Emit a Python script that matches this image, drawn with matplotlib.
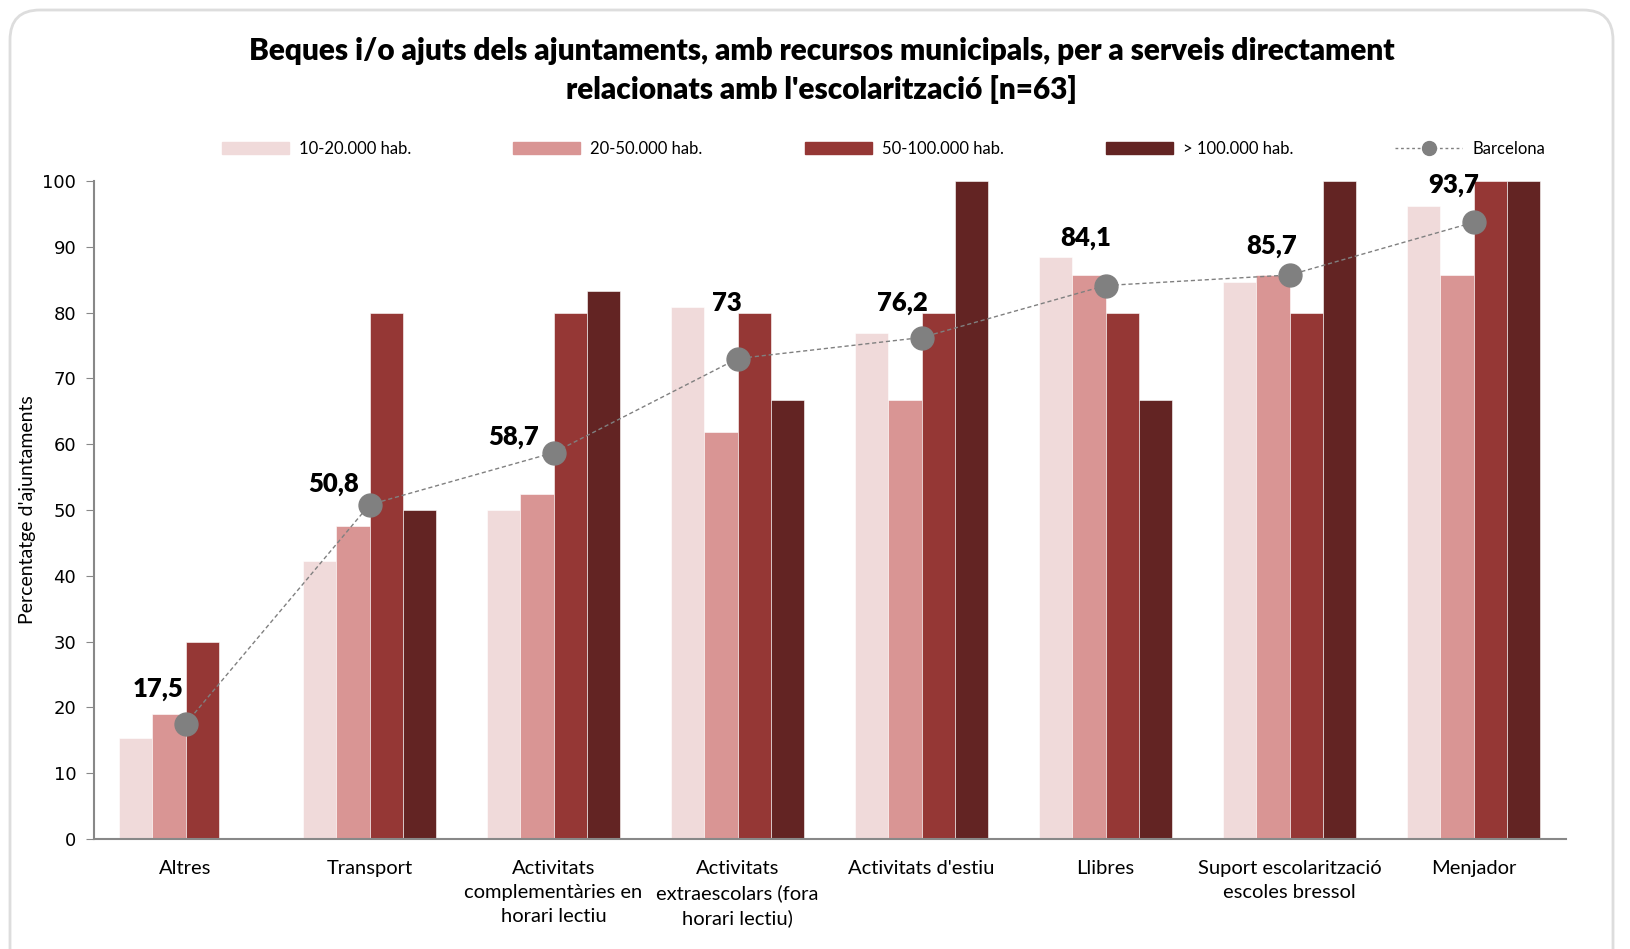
import matplotlib
matplotlib.use('Agg')
from matplotlib import pyplot as plt
from matplotlib.patches import FancyBboxPatch
from matplotlib.lines import Line2D
import numpy as np

categories = ['Altres', 'Transport', 'Activitats\ncomplementàries en\nhorari lectiu',
              'Activitats\nextraescolars (fora\nhorari lectiu)', "Activitats d'estiu",
              'Llibres', 'Suport escolarització\nescoles bressol', 'Menjador']
series_names = ['10-20.000 hab.', '20-50.000 hab.', '50-100.000 hab.', '> 100.000 hab.']
hab_10_20 = [15.4, 42.2, 50.0, 80.8, 76.9, 88.5, 84.6, 96.2]
hab_20_50 = [19.0, 47.6, 52.4, 61.9, 66.7, 85.7, 85.7, 85.7]
hab_50_100 = [30.0, 80.0, 80.0, 80.0, 80.0, 80.0, 80.0, 100.0]
hab_100 = [0.0, 50.0, 83.3, 66.7, 100.0, 66.7, 100.0, 100.0]
barcelona = [17.5, 50.8, 58.7, 73.0, 76.2, 84.1, 85.7, 93.7]
barcelona_labels = ['17,5', '50,8', '58,7', '73', '76,2', '84,1', '85,7', '93,7']

colors = ['#F0DADA', '#D99594', '#953735', '#632423']
# label offsets (points) from the Barcelona markers
label_off = [(-20, 25), (-26, 15), (-29, 11), (-8, 40), (-14, 25), (-14, 34), (-13, 21), (-14, 27)]

plt.rcParams['font.family'] = ['Lato', 'DejaVu Sans']

fig = plt.figure(figsize=(16.3, 9.49), dpi=100)
ax = fig.add_axes([0.0574, 0.1159, 0.9031, 0.6935])

x = np.arange(len(categories))
w = 0.18
all_series = [hab_10_20, hab_20_50, hab_50_100, hab_100]
for i, vals in enumerate(all_series):
    ax.bar(x + (i - 1.5) * w, vals, w, color=colors[i], edgecolor='white',
           linewidth=0.4, label=series_names[i], zorder=2)

ax.plot(x, barcelona, linestyle=(0, (3, 2)), color='#808080', linewidth=1,
        marker='o', markersize=16.5, markerfacecolor='#808080',
        markeredgecolor='#808080', zorder=3)
for i, v in enumerate(barcelona):
    ax.annotate(barcelona_labels[i], (x[i], v), xytext=label_off[i],
                textcoords='offset points', ha='center', va='center',
                fontsize=18.5, fontweight='heavy', zorder=4)

ax.set_xlim(-0.5, 7.5)
ax.set_ylim(0, 100)
ax.set_yticks(range(0, 101, 10))
ax.set_yticklabels([str(v) for v in range(0, 101, 10)], family='DejaVu Sans', fontsize=13)
ax.set_xticks(x)
ax.set_xticklabels(categories, fontsize=14.5, linespacing=1.5)
ax.tick_params(axis='x', length=0, pad=15)
ax.tick_params(axis='y', length=6, color='#888888', pad=6.5)
for s in ['top', 'right']:
    ax.spines[s].set_visible(False)
for s in ['left', 'bottom']:
    ax.spines[s].set_color('#888888')
    ax.spines[s].set_linewidth(1.5)
ax.set_ylabel("Percentatge d'ajuntaments", fontsize=14)
ax.yaxis.set_label_coords(-0.0446, 0.5)
ax.yaxis.label.set_va('center')

fig.text(0.504, 0.926, "Beques i/o ajuts dels ajuntaments, amb recursos municipals, per a serveis directament\nrelacionats amb l'escolarització [n=63]",
         ha='center', va='center', fontsize=21.4, fontweight='heavy', linespacing=1.4)

handles = [plt.Rectangle((0, 0), 1, 1, color=c) for c in colors]
handles.append(Line2D([], [], linestyle=(0, (2, 2)), color='#808080', linewidth=1,
                      marker='o', markersize=10, markerfacecolor='#808080'))
labels = series_names + ['Barcelona']
fig.legend(handles, labels, loc='center left', bbox_to_anchor=(0.1362, 0.843),
           ncol=5, frameon=False, fontsize=12, handlelength=4.0,
           handletextpad=0.6, columnspacing=6.15, borderpad=0, borderaxespad=0)

frame = FancyBboxPatch((10, -40), 1603, 979, boxstyle='round,pad=0,rounding_size=30',
                       transform=None, facecolor='none', edgecolor='#DDDDDD',
                       linewidth=2, zorder=0)
fig.patches.append(frame)

plt.savefig('out.png', dpi=100)
plt.close()
